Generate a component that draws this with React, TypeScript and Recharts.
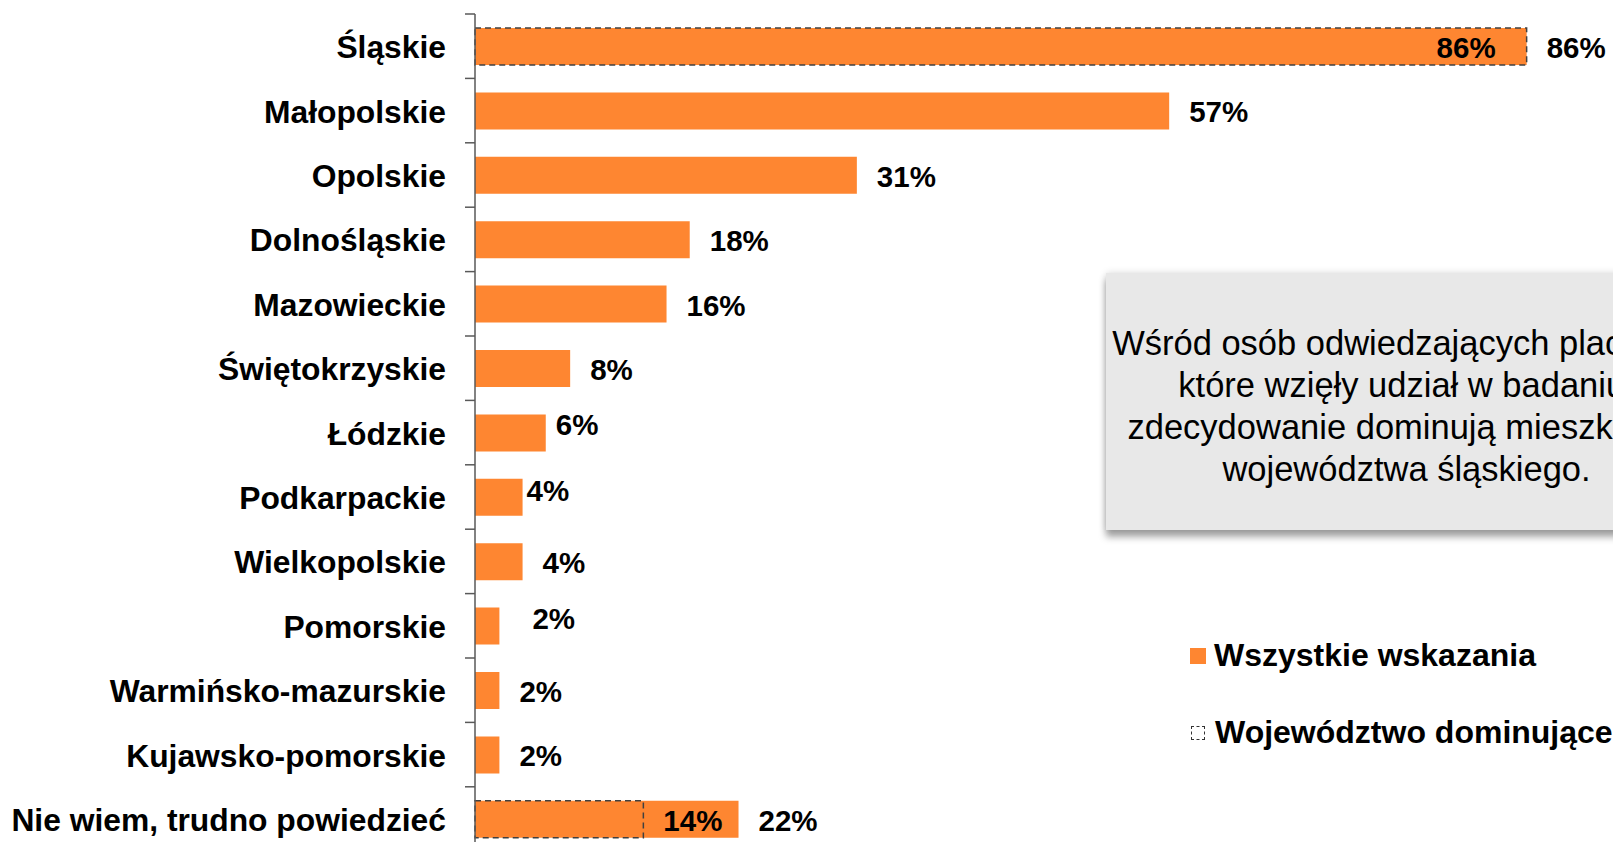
import { BarChart, Bar, XAxis, YAxis, LabelList, Legend } from "recharts";

const CATEGORIES = [
  "Śląskie",
  "Małopolskie",
  "Opolskie",
  "Dolnośląskie",
  "Mazowieckie",
  "Świętokrzyskie",
  "Łódzkie",
  "Podkarpackie",
  "Wielkopolskie",
  "Pomorskie",
  "Warmińsko-mazurskie",
  "Kujawsko-pomorskie",
  "Nie wiem, trudno powiedzieć",
];

// Wszystkie wskazania (%)
const ALL = [86.2, 56.9, 31.3, 17.6, 15.7, 7.8, 5.8, 3.9, 3.9, 2.0, 2.0, 2.0, 21.6];
// Województwo dominujące (%)
const DOMINANT = [86.2, null, null, null, null, null, null, null, null, null, null, null, 13.8];

const SERIES_ALL = "Wszystkie wskazania";
const SERIES_DOM = "Województwo dominujące";
const SERIES_ORDER = [SERIES_ALL, SERIES_DOM];

const NOTE_LINES = [
  "Wśród osób odwiedzających placówki,",
  "które wzięły udział w badaniu,",
  "zdecydowanie dominują mieszkańcy",
  "województwa śląskiego.",
];

const ORANGE = "#fe8631";
const AXIS = "#595959";
const FONT = "'Liberation Sans', Arial, sans-serif";

// a few labels sit off their usual spot in the original
const LABEL_NUDGE: Record<string, { dx: number; dy: number }> = {
  "Łódzkie": { dx: -10, dy: -9 },
  "Podkarpackie": { dx: -16, dy: -8 },
  "Pomorskie": { dx: 13, dy: -9 },
};

const data = CATEGORIES.map((name, i) => ({
  name,
  all: ALL[i],
  dominant: DOMINANT[i],
}));

const CHART_W = 1720;
const CHART_H = 870;
const MARGIN = { top: 14, right: 25, bottom: 18.8, left: 0 };
const BAND = (CHART_H - MARGIN.top - MARGIN.bottom) / CATEGORIES.length;

const pct = (v: number) => `${Math.round(v)}%`;

const CategoryTick = ({ x, y, payload }: any) => (
  <g>
    <line
      x1={x + 19}
      x2={x + 29}
      y1={y - BAND / 2}
      y2={y - BAND / 2}
      stroke={AXIS}
      strokeWidth={1.5}
    />
    <text
      x={x}
      y={y + 1}
      textAnchor="end"
      dominantBaseline="central"
      fontFamily={FONT}
      fontWeight="bold"
      fontSize={31.8}
      fill="#000"
    >
      {payload.value}
    </text>
  </g>
);

const AllLabel = ({ x, y, width, height, value, index }: any) => {
  const nudge = LABEL_NUDGE[CATEGORIES[index]] || { dx: 0, dy: 0 };
  return (
    <text
      x={x + width + 20 + nudge.dx}
      y={y + height / 2 + 1 + nudge.dy}
      dominantBaseline="central"
      fontFamily={FONT}
      fontWeight="bold"
      fontSize={29.5}
      fill="#000"
    >
      {pct(value)}
    </text>
  );
};

const DominantLabel = ({ x, y, width, height, value, index }: any) => {
  if (value == null) return null;
  const full = Math.round(ALL[index]) === Math.round(value);
  return (
    <text
      x={full ? x + width - 31 : x + width + 20}
      y={y + height / 2 + 1}
      textAnchor={full ? "end" : "start"}
      dominantBaseline="central"
      fontFamily={FONT}
      fontWeight="bold"
      fontSize={29.5}
      fill="#000"
    >
      {pct(value)}
    </text>
  );
};

const renderLegend = ({ payload }: any) => {
  const items = [...payload].sort(
    (a: any, b: any) => SERIES_ORDER.indexOf(a.value) - SERIES_ORDER.indexOf(b.value)
  );
  return (
    <div style={{ fontFamily: FONT, fontWeight: "bold", fontSize: 32, whiteSpace: "nowrap" }}>
      {items.map((entry: any) => {
        const dashed = entry.value === SERIES_DOM;
        return (
          <div
            key={entry.value}
            style={{ display: "flex", alignItems: "center", height: 77 }}
          >
            <div
              style={{
                width: dashed ? 12 : 16,
                height: dashed ? 12 : 16,
                marginRight: dashed ? 10 : 8,
                marginLeft: dashed ? 1 : 0,
                flex: "none",
                background: dashed ? "transparent" : ORANGE,
                border: dashed ? "1.5px dashed #333" : "none",
              }}
            />
            <span>{entry.value}</span>
          </div>
        );
      })}
    </div>
  );
};

export default function App() {
  return (
    <div
      style={{
        position: "fixed",
        left: 0,
        top: 0,
        width: 1613,
        height: 842,
        overflow: "hidden",
        background: "#fff",
      }}
    >
      <BarChart
        width={CHART_W}
        height={CHART_H}
        data={data}
        layout="vertical"
        margin={MARGIN}
        barGap={-37}
      >
        <XAxis type="number" domain={[0, 100]} hide />
        <YAxis
          type="category"
          dataKey="name"
          width={475}
          tickLine={false}
          tickSize={10}
          tickMargin={19}
          axisLine={{ stroke: AXIS, strokeWidth: 1.5 }}
          tick={<CategoryTick />}
          interval={0}
        />
        <Legend
          layout="vertical"
          align="center"
          verticalAlign="middle"
          content={renderLegend}
          wrapperStyle={{ left: 1190, top: 617, width: 520, height: 154 }}
        />
        <Bar
          dataKey="all"
          name={SERIES_ALL}
          fill={ORANGE}
          barSize={37}
          isAnimationActive={false}
        >
          <LabelList dataKey="all" content={<AllLabel />} />
        </Bar>
        <Bar
          dataKey="dominant"
          name={SERIES_DOM}
          fill="none"
          stroke="#404040"
          strokeWidth={1.5}
          strokeDasharray="6 4"
          barSize={37}
          isAnimationActive={false}
        >
          <LabelList dataKey="dominant" content={<DominantLabel />} />
        </Bar>
      </BarChart>

      <div
        style={{
          position: "absolute",
          left: 1106,
          top: 273,
          width: 601,
          height: 257,
          background: "#e8e8e8",
          boxShadow: "0 7px 7px rgba(0,0,0,0.35), 0 0 7px rgba(0,0,0,0.15)",
          fontFamily: FONT,
          fontSize: 34.5,
          color: "#000",
          textAlign: "center",
          boxSizing: "border-box",
          paddingTop: 49,
        }}
      >
        {NOTE_LINES.map((line) => (
          <div key={line} style={{ height: 42, lineHeight: "42px", whiteSpace: "nowrap" }}>
            {line}
          </div>
        ))}
      </div>
    </div>
  );
}
